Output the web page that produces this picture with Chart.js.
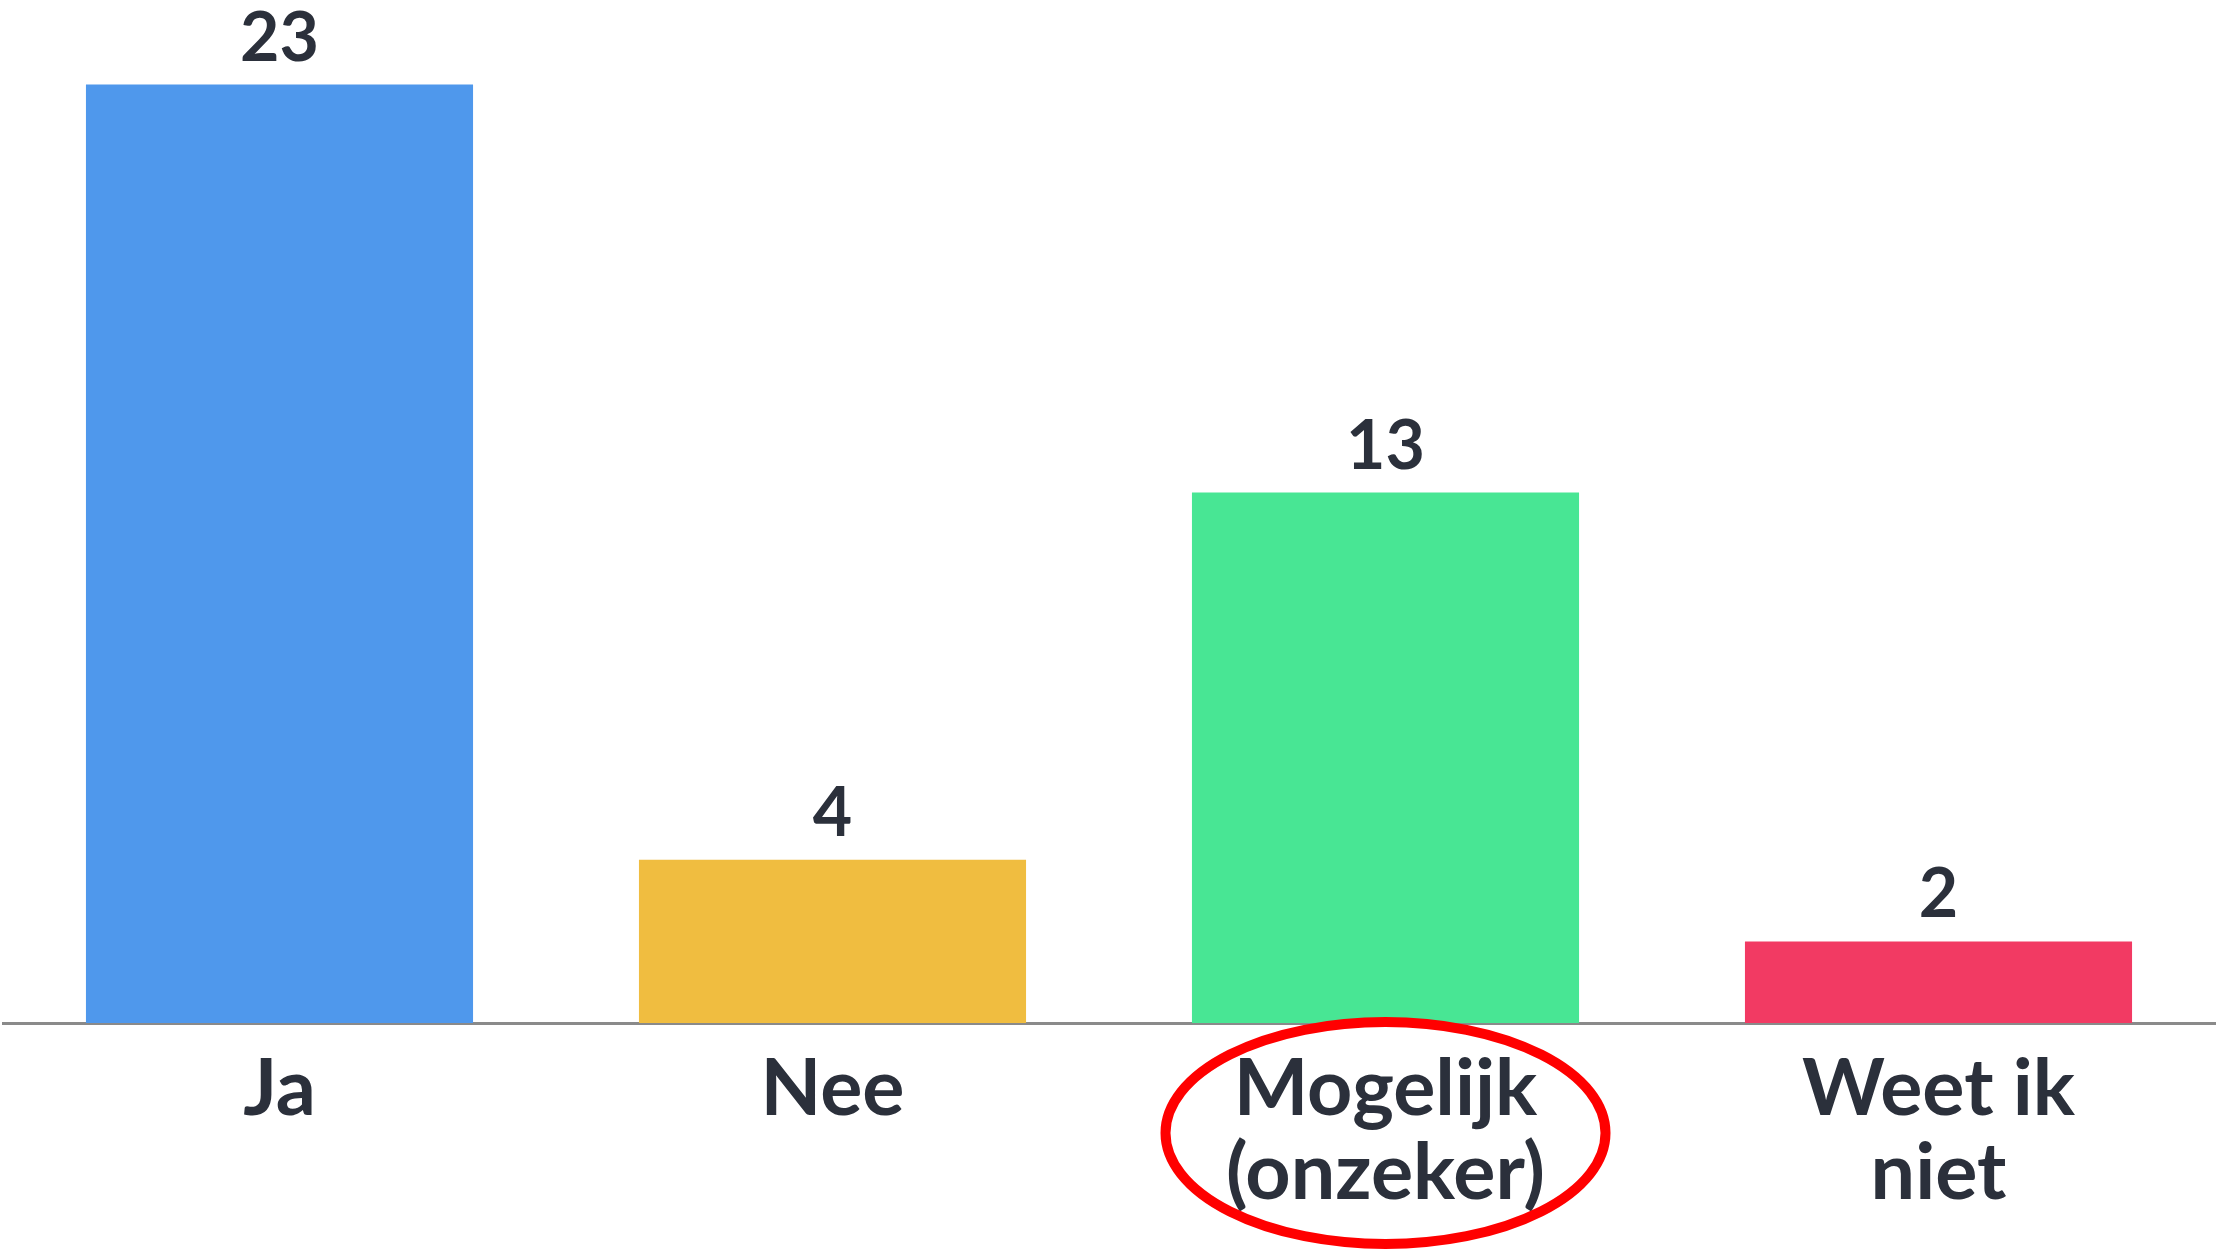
<!DOCTYPE html>
<html>
<head>
<meta charset="utf-8">
<script src="https://cdn.jsdelivr.net/npm/chart.js@4"></script>
<style>
    html, body { margin: 0; padding: 0; background: #ffffff; }
    #wrap { width: 2219px; height: 1250px; }
</style>
</head>
<body>
<div id="wrap"><canvas id="answers"></canvas></div>
<script>
const categories = [["Ja"], ["Nee"], ["Mogelijk", "(onzeker)"], ["Weet ik", "niet"]]
const counts = [23, 4, 13, 2]
const barColors = ["#4f98ec", "#f0bd40", "#48e694", "#f23a63"]
const circled = 2

const textColor = "#2b303b"
const fontFamily = "Lato, 'DejaVu Sans', sans-serif"

// value above each bar
const valueLabels = {
    id: "valueLabels",
    afterDatasetsDraw(chart) {
        let ctx = chart.ctx
        let meta = chart.getDatasetMeta(0)
        ctx.save()
        ctx.fillStyle = textColor
        ctx.font = "bold 68px " + fontFamily
        ctx.textAlign = "center"
        ctx.textBaseline = "alphabetic"
        meta.data.forEach((bar, i) => {
            ctx.fillText(String(counts[i]), bar.x, bar.y - 24)
        })
        ctx.restore()
    }
}

// red ring round one label
const ring = {
    id: "ring",
    afterDraw(chart) {
        let ctx = chart.ctx
        let x = chart.scales.x.getPixelForValue(circled)
        let y = chart.chartArea.bottom + 110
        ctx.save()
        ctx.strokeStyle = "#ff0000"
        ctx.lineWidth = 10
        ctx.beginPath()
        ctx.ellipse(x, y, 220, 111, 0, 0, Math.PI * 2)
        ctx.stroke()
        ctx.restore()
    }
}

new Chart("answers", {
    type: "bar",
    data: {
        labels: categories,
        datasets: [{
            data: counts,
            backgroundColor: barColors,
            borderWidth: 0,
            categoryPercentage: 1,
            barPercentage: 0.7
        }]
    },
    options: {
        responsive: true,
        maintainAspectRatio: false,
        animation: false,
        layout: { padding: { top: 3, left: 3, right: 4, bottom: 0 } },
        plugins: {
            legend: { display: false },
            tooltip: { enabled: false }
        },
        scales: {
            x: {
                grid: { display: false, drawTicks: false },
                border: { display: true, color: "#8a8a8a", width: 3 },
                ticks: {
                    color: textColor,
                    font: { family: fontFamily, size: 79, weight: "bold", lineHeight: 1.07 },
                    padding: 24,
                    maxRotation: 0,
                    autoSkip: false
                },
                afterFit(axis) { axis.height = 227 }
            },
            y: {
                display: false,
                min: 0,
                max: 25
            }
        }
    },
    plugins: [valueLabels, ring]
})
</script>
</body>
</html>
